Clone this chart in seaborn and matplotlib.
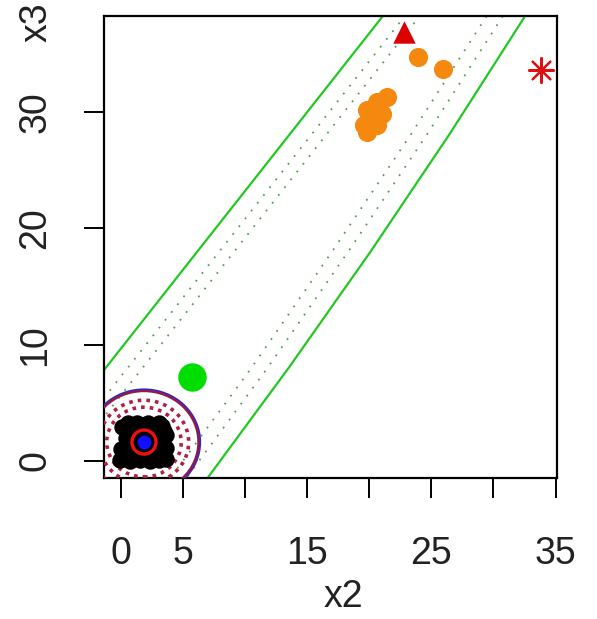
import matplotlib
matplotlib.use("Agg")
import matplotlib.pyplot as plt
import seaborn as sns
import pandas as pd
from matplotlib.patches import Circle

# ---- data -------------------------------------------------------------
# orange group
orange_x2 = [23.9, 25.9, 21.4, 20.6, 19.8, 19.6, 20.6, 19.8, 21.0]
orange_x3 = [34.7, 33.7, 31.3, 30.9, 30.2, 28.9, 28.9, 28.3, 29.8]

# dense black group near the origin
black_x2 = [-0.1, 0.7, 1.5, 2.3, 3.1, 3.6,
            0.0, 0.8, 2.8, 3.6,
            0.4, 1.0, 2.9, 3.6,
            0.1, 0.9, 1.7, 2.5, 3.3,
            0.6, 1.3, 2.2, 3.1, 3.5,
            1.6, 2.3, 1.4, 2.3]
black_x3 = [0.1, 0.0, 0.1, 0.0, 0.1, 0.2,
            1.0, 1.0, 1.0, 1.1,
            2.0, 2.1, 2.0, 2.2,
            2.9, 3.0, 3.1, 3.0, 3.0,
            3.3, 3.3, 3.3, 3.3, 2.6,
            1.2, 2.3, 2.4, 1.1]

# group centre and single points
centre_x2, centre_x3 = [1.85], [1.63]
green_x2, green_x3 = [5.7], [7.2]
tri_x2, tri_x3 = [22.8], [36.9]
star_x2, star_x3 = [33.8], [33.6]

# band around the upper group: outer limits and inner dotted limits
band_upper_x2 = [-8.62, 22.38]
band_upper_x3 = [-2.0, 40.0]
inner_upper_a_x2 = [-6.85, 24.15]
inner_upper_b_x2 = [-5.65, 25.35]
band_lower_x2 = [6.6, 13.5, 20.1, 26.4, 33.6]
band_lower_x3 = [-2.0, 8.0, 18.0, 28.0, 40.0]
inner_lower_a_x2 = [4.9, 11.8, 18.3, 24.6, 31.8]
inner_lower_b_x2 = [3.6, 10.5, 17.0, 23.3, 30.5]

# rings around the black group centre
ring_radii = [4.5, 4.4]
ring_colors = ["#2a2ad0", "#8e1a4e"]
dashed_radii = [3.6, 3.0]

xticks = [0, 5, 10, 15, 20, 25, 30, 35]
xticklabels = ["0", "5", "", "15", "", "25", "", "35"]
yticks = [0, 10, 20, 30]
yticklabels = ["0", "10", "20", "30"]

# ---- figure -----------------------------------------------------------
sns.set_theme(style="white")
plt.rcParams["font.family"] = ["Liberation Sans", "DejaVu Sans"]

fig = plt.figure(figsize=(5.97, 6.19), dpi=100)
ax = fig.add_axes([104 / 597, 1 - 478 / 619, 453 / 597, 462 / 619])

solid_green = "#22c822"
dot_green = "#5a9a5a"

def band_line(xs, ys, **kw):
    df = pd.DataFrame({"x2": xs, "x3": ys})
    sns.lineplot(data=df, x="x2", y="x3", sort=False, estimator=None,
                 ax=ax, legend=False, **kw)

band_line(band_upper_x2, band_upper_x3, color=solid_green, linewidth=1.6)
band_line(inner_upper_a_x2, band_upper_x3, color=dot_green, linewidth=1.3,
          linestyle=(0, (1, 4.5)))
band_line(inner_upper_b_x2, band_upper_x3, color=dot_green, linewidth=1.3,
          linestyle=(0, (1, 4.5)))
band_line(band_lower_x2, band_lower_x3, color=solid_green, linewidth=1.6)
band_line(inner_lower_a_x2, band_lower_x3, color=dot_green, linewidth=1.3,
          linestyle=(0, (1, 4.5)))
band_line(inner_lower_b_x2, band_lower_x3, color=dot_green, linewidth=1.3,
          linestyle=(0, (1, 4.5)))

# rings
for r, c in zip(ring_radii, ring_colors):
    ax.add_patch(Circle((centre_x2[0], centre_x3[0]), r, fill=False,
                        edgecolor=c, linewidth=1.9, zorder=3))
for r in dashed_radii:
    ax.add_patch(Circle((centre_x2[0], centre_x3[0]), r, fill=False,
                        edgecolor="#b02040", linewidth=2.6,
                        linestyle=(0, (1, 1.4)), zorder=3))

# points
sns.scatterplot(x=black_x2, y=black_x3, color="black", s=140,
                edgecolor="black", linewidth=0, ax=ax, zorder=4)
sns.scatterplot(x=centre_x2, y=centre_x3, s=300, marker="o",
                facecolor="none", edgecolor="#ee1111", linewidth=2.4,
                ax=ax, zorder=5)
sns.scatterplot(x=centre_x2, y=centre_x3, s=100, color="#1010ff",
                linewidth=0, ax=ax, zorder=6)
sns.scatterplot(x=green_x2, y=green_x3, s=420, color="#00dd00",
                linewidth=0, ax=ax, zorder=4)
sns.scatterplot(x=orange_x2, y=orange_x3, s=190, color="#f5890f",
                linewidth=0, ax=ax, zorder=4)
sns.scatterplot(x=tri_x2, y=tri_x3, s=260, marker="^", color="#dd0000",
                linewidth=0, ax=ax, zorder=4)
sns.scatterplot(x=star_x2, y=star_x3, s=320, marker=(8, 2, 0),
                color="#dd1111", edgecolor="#dd1111", linewidth=1.6,
                ax=ax, zorder=4)

# ---- axes -------------------------------------------------------------
ax.set_xlim(-1.37, 35.12)
ax.set_ylim(-1.46, 38.26)
ax.set_xticks(xticks)
ax.set_xticklabels(xticklabels)
ax.set_yticks(yticks)
ax.set_yticklabels(yticklabels, rotation=90, va="center")
ax.tick_params(axis="both", direction="out", length=14.5, width=1.4,
               color="black", labelsize=27, labelcolor="#222222",
               bottom=True, left=True)
ax.tick_params(axis="x", pad=27)
ax.tick_params(axis="y", pad=22)
for sp in ax.spines.values():
    sp.set_visible(True)
    sp.set_color("black")
    sp.set_linewidth(1.6)

ax.set_xlabel("x2", fontsize=27, color="#222222")
ax.xaxis.set_label_coords(0.528, -0.258)
ax.xaxis.label.set_va("center")
ax.set_ylabel("x3", fontsize=27, color="#222222")
ax.yaxis.set_label_coords(-0.148, 0.987)
ax.yaxis.label.set_va("center")
ax.yaxis.label.set_ha("center")

fig.savefig("out.png", dpi=100)
